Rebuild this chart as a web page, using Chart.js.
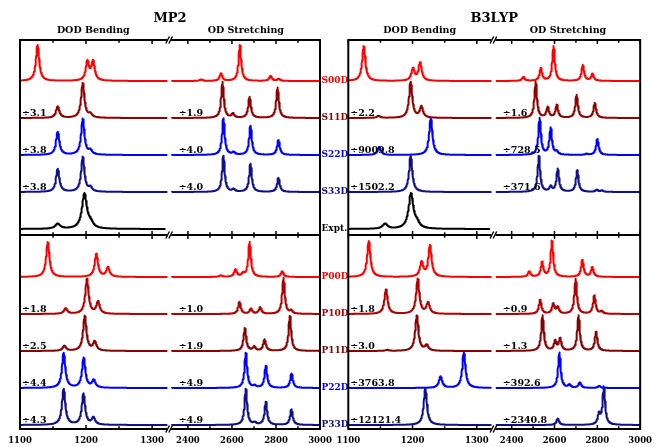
<!DOCTYPE html>
<html><head><meta charset="utf-8">
<script src="https://cdn.jsdelivr.net/npm/chart.js@4.4.0/dist/chart.umd.min.js"></script>
<style>
html,body{margin:0;padding:0;background:#fff;}
#wrap{position:relative;width:659px;height:447px;background:#fff;}
canvas{position:absolute;left:0;top:0;}
</style></head><body>
<div id="wrap"><canvas id="c1" width="659" height="447"></canvas><canvas id="c2" width="659" height="447"></canvas></div>
<script>
// ---------- DATA: peak lists [wavenumber (cm^-1), peak height as drawn] ----------
const SPECTRUM_NAMES = ['S00D','S11D','S22D','S33D','Expt.','P00D','P10D','P11D','P22D','P33D'];

const MP2_S00D = [[1126.5,36],[1202,19],[1210.5,19],[2460,1.5],[2550,7.5],[2636,36],[2775,5],[2812,2]];
const MP2_S11D = [[1157,11.5],[1195,35],[1206.5,3.5],[2557,36],[2604,4],[2680,21],[2807,30.5]];
const MP2_S22D = [[1157,23],[1195,36],[1206.5,4],[2561,36.5],[2607,2.5],[2684,29],[2811,15]];
const MP2_S33D = [[1157,23],[1195,35],[1206.5,4],[2561,36],[2607,2.5],[2684,28],[2811,14]];
const EXPT     = [[1157,5],[1197.5,35],[1207,4.5]];
const MP2_P00D = [[1142,35],[1215.5,23],[1233,9.5],[2549,1.5],[2616,7.5],[2650,3],[2680,35],[2828,5.5]];
const MP2_P10D = [[1169,5.5],[1201.3,35],[1218,12],[2634,12],[2686,5],[2728,6.5],[2834,36],[2869,3]];
const MP2_P11D = [[1167,5],[1198,35],[1213,9],[2658.5,23],[2701,4],[2748,11.5],[2863,35]];
const MP2_P22D = [[1166,35],[1196.4,30],[1211.5,7.5],[2663,35],[2703,2],[2754,22],[2870.6,14.5]];
const MP2_P33D = [[1166,36],[1196,31],[1211,7],[2663,36],[2703,2],[2754,23],[2870,15.5]];

const B3_S00D = [[1124,35],[1200.6,12],[1211.7,18],[2454.5,4],[2536,12.5],[2595.5,35],[2732,16],[2777,7]];
const B3_S11D = [[1147,2],[1197,36],[1213.6,11],[2512,36],[2568,10.5],[2610.5,13],[2703,23],[2788,15]];
const B3_S22D = [[1148,8],[1228.3,37],[2530.5,37],[2582,27],[2610,3],[2750,1],[2800,16]];
const B3_S33D = [[1197,36],[2527,36],[2582,5],[2615,23],[2706,21.5],[2797,2],[2821,1.5]];
const B3_P00D = [[1131.8,36],[1214,14.5],[1227,31.5],[2482,5.5],[2542,14.5],[2588,36],[2730,17],[2776,9.5]];
const B3_P10D = [[1158.6,24.5],[1208,35],[1224,11],[2533,14],[2594,10],[2615,6.5],[2698.6,35],[2786,18.5],[2820,2.5]];
const B3_P11D = [[1160.6,1],[1206.6,35.5],[1221.8,5.5],[2544,35.5],[2603,9.5],[2626,12],[2712,35.5],[2794,19]];
const B3_P22D = [[1243.5,11.5],[1279.8,35.5],[2622.7,35.5],[2669.7,3],[2718,5.5],[2809,2]];
const B3_P33D = [[1219.8,36.5],[2615,6.5],[2807.6,10],[2830.3,38]];

const MP2_BEND_DIV = ['','÷3.1','÷3.8','÷3.8','','','÷1.8','÷2.5','÷4.4','÷4.3'];
const MP2_STR_DIV  = ['','÷1.9','÷4.0','÷4.0','','','÷1.0','÷1.9','÷4.9','÷4.9'];
const B3_BEND_DIV  = ['','÷2.2','÷9009.8','÷1502.2','','','÷1.8','÷3.0','÷3763.8','÷12121.4'];
const B3_STR_DIV   = ['','÷1.6','÷728.5','÷371.6','','','÷0.9','÷1.3','÷392.6','÷2340.8'];

const TICK_MAJOR = [1100,1200,1300,2400,2600,2800,3000];
const TICK_LABELS = ['1100','1200','1300','2400','2600','2800','3000'];
const TICK_MINOR = [1150,1250,2500,2700,2900];

// ---------- LAYOUT / STYLE ----------
const BEND_MIN = 1100, BEND_MAX = 1322, EXPT_END = 1319.5;
const STR_MIN = 2326, STR_MAX = 3000, GAP = 7.6, STR_SCALE = 3;
const GAMMA_BEND = 3, GAMMA_STR = 7, GAMMA_EXPT = 4.5;
const BASELINES = [348,311,274,237,200,152,115,78,41,4];
const DIVIDER_Y = 194, Y_MAX = 389;
const COLORS = ['#ff0000','#900000','#0000ff','#10108c','#000000','#ff0000','#b00000','#880000','#0000ff','#10108c'];
const FONT = '"DejaVu Serif", serif';

function toU(v){ return v < 2000 ? v : BEND_MAX + GAP + (v - STR_MIN) / STR_SCALE; }
const U_MAX = toU(STR_MAX);

function lorentz(peaks, v, isExpt){
  let s = 0;
  for (const [p,h] of peaks){
    const g = isExpt ? GAMMA_EXPT : (p < 2000 ? GAMMA_BEND : GAMMA_STR);
    const d = (v - p) / g;
    s += h / (1 + d*d);
  }
  return s;
}
function series(peaks, base, isExpt){
  const bend = peaks.filter(p => p[0] < 2000), str = peaks.filter(p => p[0] >= 2000);
  const pts = [];
  const end = isExpt ? EXPT_END : BEND_MAX;
  for (let v = BEND_MIN; v <= end + 1e-9; v += 0.5) pts.push({x: toU(v), y: base + lorentz(bend, v, isExpt)});
  pts.push({x: BEND_MAX + GAP/2, y: null});
  if (!isExpt) for (let v = STR_MIN; v <= STR_MAX + 1e-9; v += 1) pts.push({x: toU(v), y: base + lorentz(str, v, false)});
  return pts;
}

function panelPlugin(cfg){
  return {
    id: 'panel',
    afterDraw(chart){
      const ctx = chart.ctx, a = chart.chartArea, xs = chart.scales.x, ys = chart.scales.y;
      const mid = ys.getPixelForValue(DIVIDER_Y);
      ctx.save();
      ctx.strokeStyle = '#000';
      // ticks
      ctx.lineWidth = 1.5;
      const ticks = TICK_MAJOR.map(v => [v,4]).concat(TICK_MINOR.map(v => [v,2.8]));
      for (const [v,len] of ticks){
        const x = xs.getPixelForValue(toU(v));
        ctx.beginPath();
        ctx.moveTo(x, a.top); ctx.lineTo(x, a.top + len);
        ctx.moveTo(x, a.bottom); ctx.lineTo(x, a.bottom - len);
        ctx.moveTo(x, mid - len); ctx.lineTo(x, mid + len);
        ctx.stroke();
      }
      // frame
      ctx.lineWidth = 2;
      ctx.strokeRect(a.left, a.top, a.right - a.left, a.bottom - a.top);
      ctx.beginPath(); ctx.moveTo(a.left, mid); ctx.lineTo(a.right, mid); ctx.stroke();
      // break marks
      const xb = xs.getPixelForValue(BEND_MAX + GAP/2);
      for (const y of [a.top, mid, a.bottom]){
        ctx.fillStyle = '#fff';
        ctx.fillRect(xb - 2, y - 1.6, 4, 3.2);
        ctx.lineWidth = 1.4;
        ctx.beginPath();
        for (const dx of [-1.5, 1.5]){
          ctx.moveTo(xb + dx - 1.8, y + 3.5);
          ctx.lineTo(xb + dx + 1.8, y - 3.5);
        }
        ctx.stroke();
      }
      // titles
      ctx.fillStyle = '#000';
      ctx.textAlign = 'center'; ctx.textBaseline = 'middle';
      ctx.font = 'bold 13px ' + FONT;
      ctx.fillText(cfg.title, (a.left + a.right)/2, 18.5);
      ctx.font = 'bold 9.5px ' + FONT;
      const bx0 = xs.getPixelForValue(BEND_MIN), bx1 = xs.getPixelForValue(BEND_MAX);
      const sx0 = xs.getPixelForValue(toU(STR_MIN)), sx1 = xs.getPixelForValue(toU(STR_MAX));
      ctx.fillText('DOD Bending', (bx0 + bx1)/2, 30.5);
      ctx.fillText('OD Stretching', (sx0 + sx1)/2, 30.5);
      // divisor labels
      ctx.textAlign = 'left'; ctx.textBaseline = 'alphabetic';
      for (let i = 0; i < SPECTRUM_NAMES.length; i++){
        const yb = ys.getPixelForValue(BASELINES[i]) - 2.5;
        if (cfg.bendDiv[i]) ctx.fillText(cfg.bendDiv[i], a.left + 2, yb);
        if (cfg.strDiv[i]) ctx.fillText(cfg.strDiv[i], sx0 + 7, yb);
      }
      // spectrum names
      if (cfg.names){
        ctx.font = 'bold 9px ' + FONT;
        ctx.textBaseline = 'middle';
        for (let i = 0; i < SPECTRUM_NAMES.length; i++){
          ctx.fillStyle = COLORS[i];
          ctx.fillText(SPECTRUM_NAMES[i], a.right + 1.5, ys.getPixelForValue(BASELINES[i]));
        }
      }
      ctx.restore();
    }
  };
}

function makeChart(id, spectra, cfg, pad){
  const datasets = spectra.map((pk, i) => ({
    data: series(pk, BASELINES[i], pk === EXPT),
    borderColor: COLORS[i], borderWidth: 2, pointRadius: 0, fill: false,
    tension: 0, spanGaps: false, borderJoinStyle: 'round'
  }));
  return new Chart(document.getElementById(id), {
    type: 'line',
    data: { datasets },
    options: {
      responsive: false, animation: false, devicePixelRatio: 1, events: [],
      parsing: false, normalized: true,
      layout: { padding: pad },
      plugins: { legend: {display: false}, tooltip: {enabled: false} },
      scales: {
        x: {
          type: 'linear', min: BEND_MIN, max: U_MAX,
          grid: {display: false, drawTicks: false}, border: {display: false},
          afterBuildTicks: s => { s.ticks = TICK_MAJOR.map(v => ({value: toU(v)})); },
          afterFit: s => { s.height = 18; },
          ticks: {
            autoSkip: false, maxRotation: 0, padding: 7, color: '#000',
            font: {family: FONT, weight: 'bold', size: 8.5},
            callback: (val, i) => TICK_LABELS[i]
          }
        },
        y: { type: 'linear', display: false, min: 0, max: Y_MAX }
      }
    },
    plugins: [panelPlugin(cfg)]
  });
}

makeChart('c1',
  [MP2_S00D, MP2_S11D, MP2_S22D, MP2_S33D, EXPT, MP2_P00D, MP2_P10D, MP2_P11D, MP2_P22D, MP2_P33D],
  {title: 'MP2', bendDiv: MP2_BEND_DIV, strDiv: MP2_STR_DIV, names: true},
  {left: 20, right: 339, top: 40, bottom: 0});
makeChart('c2',
  [B3_S00D, B3_S11D, B3_S22D, B3_S33D, EXPT, B3_P00D, B3_P10D, B3_P11D, B3_P22D, B3_P33D],
  {title: 'B3LYP', bendDiv: B3_BEND_DIV, strDiv: B3_STR_DIV, names: false},
  {left: 348.3, right: 10.5, top: 40, bottom: 0});
</script>
</body></html>
